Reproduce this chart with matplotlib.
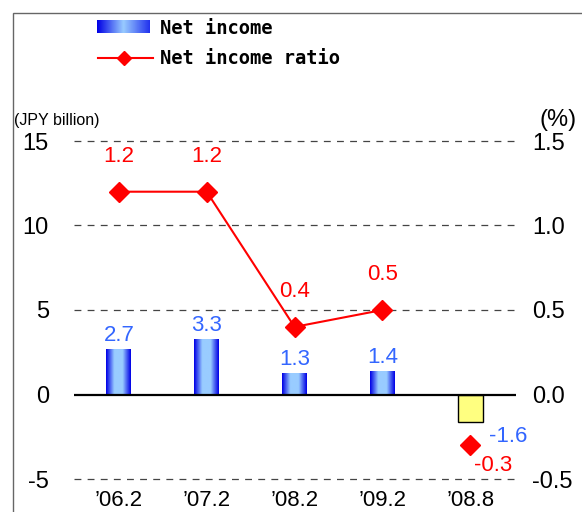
import numpy as np
import matplotlib
matplotlib.use('Agg')
import matplotlib.pyplot as plt
from matplotlib.colors import LinearSegmentedColormap
from matplotlib.lines import Line2D
from matplotlib.patches import Rectangle

categories = ["\u201906.2", "\u201907.2", "\u201908.2", "\u201909.2", "\u201908.8"]
net_income = [2.7, 3.3, 1.3, 1.4, -1.6]
net_income_ratio = [1.2, 1.2, 0.4, 0.5, -0.3]
left_ticks = [-5, 0, 5, 10, 15]
left_tick_labels = ["-5", "0", "5", "10", "15"]
right_ticks = [-0.5, 0.0, 0.5, 1.0, 1.5]
right_tick_labels = ["-0.5", "0.0", "0.5", "1.0", "1.5"]
n_trend = 4  # periods joined by the ratio line

NARROW = ['Liberation Sans', 'DejaVu Sans']
BLUE_TXT = '#3366FF'
RED = '#FF0000'

W, H = 582, 512
fig = plt.figure(figsize=(W / 100, H / 100), dpi=100)
ax = fig.add_axes([74 / W, 1 - 479 / H, (516 - 74) / W, (479 - 141) / H])
ax2 = ax.twinx()

x = np.arange(len(categories))
bw = 0.284

# gridlines
for yv in left_ticks:
    if yv == 0:
        ax.axhline(yv, color='black', lw=1.6, zorder=3)
    else:
        ax.axhline(yv, color='#444444', lw=0.9, ls=(0, (5.5, 5)), zorder=1, clip_on=False)

grad = LinearSegmentedColormap.from_list('g', ['#0000E6', '#99CCFF', '#99CCFF', '#0000E6'])
gimg = np.linspace(0, 1, 64).reshape(1, -1)

bars = ax.bar(x[:n_trend], net_income[:n_trend], width=bw, color='none', edgecolor='none', zorder=2)
for b in bars:
    x0, y0 = b.get_x(), b.get_y()
    im = ax.imshow(gimg, cmap=grad, aspect='auto', extent=(x0, x0 + b.get_width(), y0, y0 + b.get_height()),
                   zorder=2, interpolation='bilinear')
    im.set_clip_path(b)

ax.bar(x[n_trend:], net_income[n_trend:], width=bw, color='#FFFF80', edgecolor='black', lw=1.0, zorder=2)

ax.set_xlim(-0.51, 4.52)
ax.set_ylim(-5, 15)
ax2.set_ylim(-0.5, 1.5)

# bar labels
for xi, v in zip(x, net_income):
    if v >= 0:
        ax.annotate(f"{v:.1f}", (xi, v), xytext=(0, 3), textcoords='offset pixels', ha='center', va='bottom',
                    color=BLUE_TXT, fontsize=16, family=NARROW, zorder=5)
    else:
        ax.annotate(f"{v:.1f}", (xi, v), xytext=(19, -4), textcoords='offset pixels', ha='left', va='top',
                    color=BLUE_TXT, fontsize=16, family=NARROW, zorder=5)

# ratio line
ax2.plot(x[:n_trend], net_income_ratio[:n_trend], color=RED, lw=1.5, marker='D', markersize=10.5,
         markerfacecolor=RED, markeredgecolor=RED, zorder=4)
ax2.plot(x[n_trend:], net_income_ratio[n_trend:], ls='none', marker='D', markersize=10.5,
         color=RED, zorder=4)
for xi, v in zip(x, net_income_ratio):
    if v >= 0:
        ax2.annotate(f"{v:.1f}", (xi, v), xytext=(0, 25), textcoords='offset pixels', ha='center', va='bottom',
                     color=RED, fontsize=16, family=NARROW)
    else:
        ax2.annotate(f"{v:.1f}", (xi, v), xytext=(4, -10), textcoords='offset pixels', ha='left', va='top',
                     color=RED, fontsize=16, family=NARROW)

# axes styling
for a in (ax, ax2):
    for s in a.spines.values():
        s.set_visible(False)
ax.set_xticks(x)
ax.set_xticklabels(categories, fontsize=16, family=NARROW)
ax.set_yticks(left_ticks)
ax.set_yticklabels(left_tick_labels, fontsize=17, family=NARROW)
ax.tick_params(axis='x', length=0, pad=8)
ax.tick_params(axis='y', length=0, pad=18)
ax2.set_yticks(right_ticks)
ax2.set_yticklabels(right_tick_labels, fontsize=17, family=NARROW)
ax2.tick_params(axis='y', length=0, pad=11.5)
for t in ax2.get_yticklabels():
    t.set_ha('left')

fig.text(14 / W, 1 - 120 / H, "(JPY billion)", fontsize=11.5, family=NARROW, ha='left', va='center')
fig.text(558 / W, 1 - 120 / H, "(%)", fontsize=17, family=NARROW, ha='center', va='center')

# legend (drawn manually)
lax = fig.add_axes([97 / W, 1 - 33 / H, (150 - 97) / W, 13 / H])
lax.imshow(gimg, cmap=LinearSegmentedColormap.from_list('l', ['#0000E6', '#99CCFF', '#2233EE']), aspect='auto',
           interpolation='bilinear')
lax.set_axis_off()
fig.add_artist(Line2D([98 / W, 153 / W], [1 - 58 / H, 1 - 58 / H], transform=fig.transFigure, color=RED, lw=1.5))
fig.add_artist(Line2D([124 / W], [1 - 58 / H], transform=fig.transFigure, color=RED, marker='D', markersize=7.6, ls='none'))
fig.text(160 / W, 1 - 28.5 / H, "Net income", fontsize=13.5, family='DejaVu Sans Mono', weight='bold', ha='left', va='center')
fig.text(160 / W, 1 - 58.5 / H, "Net income ratio", fontsize=13.5, family='DejaVu Sans Mono', weight='bold', ha='left', va='center')

# outer frame
fig.add_artist(Rectangle((12.5 / W, -0.1), 1.2, 1 - 12.5 / H + 0.1, transform=fig.transFigure, fill=False,
                         ec='#666666', lw=1.0))

fig.savefig('out.png', dpi=100)
